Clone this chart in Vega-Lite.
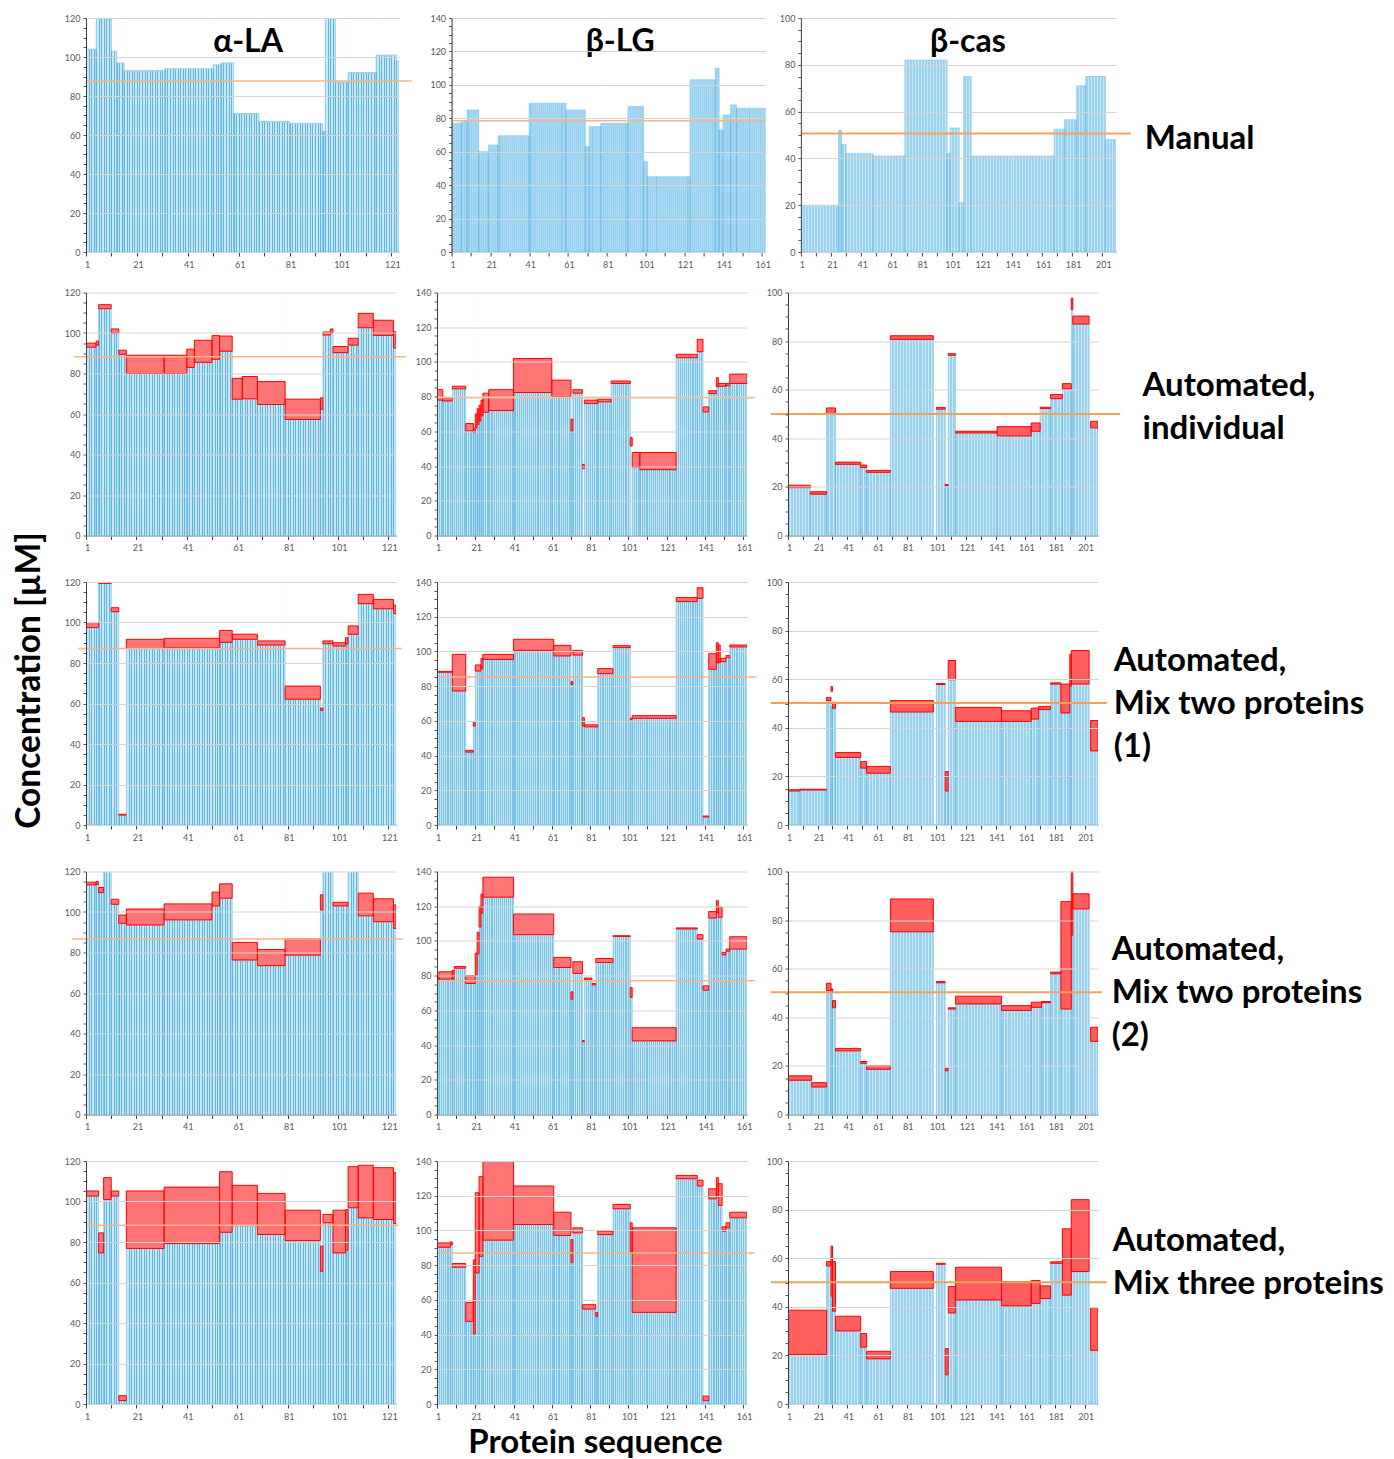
{
"background": "white",
"padding": {"left": 12, "top": 14, "right": 0, "bottom": 0},
"config": {"view": {"stroke": null}, "font": "Lato"},
"title": {"text": "Concentration [µM]", "orient": "left", "anchor": "middle", "font": "Lato", "fontSize": 33.5, "fontWeight": "bold", "color": "black", "offset": 17, "dx": 56},
"datasets": {
"a1": [{"s":1,"e":5,"v":104},{"s":5,"e":11,"v":130},{"s":11,"e":13,"v":103},{"s":13,"e":16,"v":97},{"s":16,"e":32,"v":93},{"s":32,"e":51,"v":94},{"s":51,"e":54,"v":96},{"s":54,"e":59,"v":97},{"s":59,"e":69,"v":71},{"s":69,"e":81,"v":67},{"s":81,"e":94,"v":66},{"s":94,"e":95,"v":62},{"s":95,"e":99,"v":130},{"s":99,"e":104,"v":87},{"s":104,"e":115,"v":92},{"s":115,"e":123,"v":101},{"s":123,"e":124,"v":98}],
"b1": [{"s":1,"e":6,"v":77},{"s":6,"e":9,"v":78},{"s":9,"e":15,"v":85},{"s":15,"e":20,"v":60},{"s":20,"e":25,"v":64},{"s":25,"e":41,"v":69.5},{"s":41,"e":60,"v":89},{"s":60,"e":70,"v":85},{"s":70,"e":72,"v":63},{"s":72,"e":78,"v":75},{"s":78,"e":92,"v":77},{"s":92,"e":100,"v":87},{"s":100,"e":102,"v":54},{"s":102,"e":124,"v":45},{"s":124,"e":137,"v":103},{"s":137,"e":139,"v":110},{"s":139,"e":141,"v":73},{"s":141,"e":145,"v":82},{"s":145,"e":148,"v":88},{"s":148,"e":163,"v":86}],
"c1": [{"s":1,"e":26,"v":20},{"s":26,"e":28,"v":52},{"s":28,"e":31,"v":46},{"s":31,"e":49,"v":42},{"s":49,"e":70,"v":41},{"s":70,"e":98,"v":82},{"s":98,"e":100,"v":42},{"s":100,"e":106,"v":53},{"s":106,"e":109,"v":21},{"s":109,"e":114,"v":75},{"s":114,"e":169,"v":41},{"s":169,"e":176,"v":52.5},{"s":176,"e":184,"v":56.5},{"s":184,"e":190,"v":71},{"s":190,"e":203,"v":75},{"s":203,"e":210,"v":48}],
"a2": [{"s":1,"e":5,"v":93,"hi":95},{"s":5,"e":6,"v":94,"hi":96},{"s":6,"e":11,"v":112,"hi":114},{"s":11,"e":14,"v":100,"hi":102},{"s":14,"e":17,"v":89.5,"hi":91.5},{"s":17,"e":32,"v":80,"hi":89},{"s":32,"e":41,"v":80,"hi":89},{"s":41,"e":44,"v":83,"hi":92},{"s":44,"e":51,"v":85.5,"hi":96.4},{"s":51,"e":54,"v":87,"hi":98.7},{"s":54,"e":59,"v":91,"hi":98.5},{"s":59,"e":63,"v":67.3,"hi":77.6},{"s":63,"e":69,"v":67.5,"hi":78.5},{"s":69,"e":80,"v":64.7,"hi":76},{"s":80,"e":94,"v":57.3,"hi":67.3},{"s":94,"e":95,"v":62.4,"hi":68},{"s":95,"e":98,"v":99,"hi":100.5},{"s":98,"e":99,"v":100,"hi":102},{"s":99,"e":105,"v":90.3,"hi":93.3},{"s":105,"e":109,"v":94,"hi":97.4},{"s":109,"e":115,"v":102.6,"hi":109.7},{"s":115,"e":123,"v":98.8,"hi":106.3},{"s":123,"e":124,"v":92.6,"hi":100.6}],
"b2": [{"s":1,"e":4,"v":78,"hi":84},{"s":4,"e":9,"v":77.5,"hi":79},{"s":9,"e":16,"v":84.5,"hi":86},{"s":16,"e":20,"v":60.3,"hi":64.5},{"s":20,"e":21,"v":59.3,"hi":61.6},{"s":21,"e":22,"v":62,"hi":70},{"s":22,"e":23,"v":64,"hi":73},{"s":23,"e":24,"v":66,"hi":75},{"s":24,"e":25,"v":69,"hi":78},{"s":25,"e":28,"v":71,"hi":82},{"s":28,"e":41,"v":72,"hi":84},{"s":41,"e":61,"v":82.4,"hi":102},{"s":61,"e":71,"v":80,"hi":89.5},{"s":71,"e":72,"v":60,"hi":67},{"s":72,"e":77,"v":82,"hi":84},{"s":77,"e":78,"v":0,"lo":38.5,"hi":41},{"s":78,"e":85,"v":76,"hi":78},{"s":85,"e":92,"v":77,"hi":78.5},{"s":92,"e":102,"v":87.6,"hi":89},{"s":102,"e":103,"v":0,"lo":51.5,"hi":56.5},{"s":103,"e":107,"v":39.5,"hi":47.8},{"s":107,"e":126,"v":37.9,"hi":47.8},{"s":126,"e":137,"v":102.4,"hi":104.4},{"s":137,"e":140,"v":105.9,"hi":113},{"s":140,"e":143,"v":71.2,"hi":74.1},{"s":143,"e":147,"v":81.8,"hi":83.4},{"s":147,"e":148,"v":85.7,"hi":91},{"s":148,"e":152,"v":86,"hi":87.6},{"s":152,"e":154,"v":86.3,"hi":87.6},{"s":154,"e":163,"v":87.6,"hi":93}],
"c2": [{"s":1,"e":16,"v":19.7,"hi":20.7},{"s":16,"e":27,"v":17,"hi":18},{"s":27,"e":33,"v":50,"hi":52.5},{"s":33,"e":50,"v":29.3,"hi":30.2},{"s":50,"e":54,"v":28,"hi":29},{"s":54,"e":70,"v":26,"hi":26.8},{"s":70,"e":99,"v":80.7,"hi":82.2},{"s":99,"e":101,"v":0},{"s":101,"e":107,"v":52,"hi":52.7},{"s":107,"e":109,"v":20.5,"hi":21},{"s":109,"e":114,"v":74.2,"hi":74.8},{"s":114,"e":142,"v":42.2,"hi":42.9},{"s":142,"e":165,"v":41,"hi":44.8},{"s":165,"e":171,"v":42.9,"hi":46.3},{"s":171,"e":178,"v":52.3,"hi":52.8},{"s":178,"e":186,"v":56.3,"hi":58},{"s":186,"e":192,"v":60.3,"hi":62.5},{"s":192,"e":193,"v":93,"hi":97.7},{"s":193,"e":204,"v":87,"hi":90.3},{"s":204,"e":205,"v":0},{"s":205,"e":210,"v":44.3,"hi":47}],
"a3": [{"s":1,"e":6,"v":97.5,"hi":100},{"s":6,"e":11,"v":125,"lo":119.3,"hi":121},{"s":11,"e":14,"v":105.3,"hi":107.3},{"s":14,"e":17,"v":4.9,"hi":5.3},{"s":17,"e":32,"v":87.2,"hi":91.7},{"s":32,"e":54,"v":87.6,"hi":92.2},{"s":54,"e":59,"v":90.2,"hi":96.1},{"s":59,"e":69,"v":91.7,"hi":94.2},{"s":69,"e":80,"v":88.9,"hi":90.9},{"s":80,"e":94,"v":62.1,"hi":68.6},{"s":94,"e":95,"v":56.5,"hi":57.7},{"s":95,"e":99,"v":89.5,"hi":90.9},{"s":99,"e":104,"v":88.4,"hi":90},{"s":104,"e":105,"v":89.5,"hi":92.5},{"s":105,"e":109,"v":94.2,"hi":98.3},{"s":109,"e":115,"v":109.3,"hi":113.9},{"s":115,"e":123,"v":106.8,"hi":111.4},{"s":123,"e":124,"v":104.4,"hi":108.5}],
"b3": [{"s":1,"e":9,"v":88,"hi":88.5},{"s":9,"e":16,"v":77.2,"hi":98.3},{"s":16,"e":20,"v":42,"hi":43},{"s":20,"e":21,"v":57,"hi":59},{"s":21,"e":24,"v":88.7,"hi":92.2},{"s":24,"e":25,"v":90,"hi":96},{"s":25,"e":41,"v":95.4,"hi":98.3},{"s":41,"e":62,"v":100.6,"hi":107},{"s":62,"e":71,"v":97.4,"hi":103.5},{"s":71,"e":72,"v":81,"hi":82.6},{"s":72,"e":77,"v":97.9,"hi":100.6},{"s":77,"e":78,"v":57,"hi":61.8},{"s":78,"e":85,"v":56.5,"hi":57.7},{"s":85,"e":93,"v":87.2,"hi":90.1},{"s":93,"e":102,"v":102.2,"hi":103.3},{"s":102,"e":103,"v":60.7,"hi":61.5},{"s":103,"e":126,"v":61.5,"hi":63},{"s":126,"e":137,"v":128.7,"hi":131},{"s":137,"e":140,"v":130.6,"hi":136.7},{"s":140,"e":143,"v":4.6,"hi":5.2},{"s":143,"e":147,"v":89.7,"hi":98.7},{"s":147,"e":148,"v":93.5,"hi":105},{"s":148,"e":149,"v":93.5,"hi":103.7},{"s":149,"e":152,"v":94.1,"hi":96},{"s":152,"e":154,"v":96.4,"hi":97.6},{"s":154,"e":163,"v":102.6,"hi":103.7}],
"c3": [{"s":1,"e":9,"v":14,"hi":14.5},{"s":9,"e":27,"v":14.4,"hi":14.7},{"s":27,"e":30,"v":51.2,"hi":52.5},{"s":30,"e":31,"v":49,"lo":55,"hi":57},{"s":31,"e":33,"v":48,"hi":50.5},{"s":33,"e":50,"v":27.8,"hi":29.8},{"s":50,"e":54,"v":23.4,"hi":26.1},{"s":54,"e":70,"v":21.3,"hi":24.1},{"s":70,"e":99,"v":46.5,"hi":51.2},{"s":99,"e":101,"v":0},{"s":101,"e":107,"v":57.8,"hi":58.2},{"s":107,"e":109,"v":14,"hi":22},{"s":109,"e":114,"v":59.8,"hi":67.7},{"s":114,"e":145,"v":42.6,"hi":48.4},{"s":145,"e":165,"v":42.6,"hi":47},{"s":165,"e":170,"v":43.6,"hi":48.1},{"s":170,"e":178,"v":47.5,"hi":48.8},{"s":178,"e":185,"v":58,"hi":58.5},{"s":185,"e":191,"v":46.1,"hi":58},{"s":191,"e":192,"v":57.1,"hi":70.2},{"s":192,"e":204,"v":58,"hi":71.8},{"s":204,"e":205,"v":0},{"s":205,"e":210,"v":30.5,"hi":43}],
"a4": [{"s":1,"e":5,"v":113.4,"hi":114.7},{"s":5,"e":6,"v":113.5,"hi":115},{"s":6,"e":8,"v":109.6,"hi":112.1},{"s":8,"e":11,"v":125},{"s":11,"e":14,"v":103.8,"hi":106.3},{"s":14,"e":17,"v":94.4,"hi":98.5},{"s":17,"e":32,"v":93.6,"hi":101.5},{"s":32,"e":51,"v":96.1,"hi":104},{"s":51,"e":54,"v":103,"hi":109.8},{"s":54,"e":59,"v":106.8,"hi":113.9},{"s":59,"e":69,"v":76.3,"hi":85},{"s":69,"e":80,"v":73.5,"hi":81.5},{"s":80,"e":94,"v":78.7,"hi":86.7},{"s":94,"e":95,"v":101,"hi":108.5},{"s":95,"e":99,"v":125},{"s":99,"e":105,"v":103,"hi":104.8},{"s":105,"e":109,"v":125},{"s":109,"e":115,"v":98.1,"hi":109.3},{"s":115,"e":123,"v":95.2,"hi":106.5},{"s":123,"e":124,"v":91.9,"hi":103.5}],
"b4": [{"s":1,"e":2,"v":77,"hi":79},{"s":2,"e":9,"v":78,"hi":82.2},{"s":9,"e":10,"v":78,"hi":83.2},{"s":10,"e":16,"v":84.3,"hi":85.3},{"s":16,"e":21,"v":75.5,"hi":79.9},{"s":21,"e":22,"v":80.5,"hi":93},{"s":22,"e":23,"v":92.5,"hi":105},{"s":23,"e":24,"v":108,"hi":120},{"s":24,"e":25,"v":116,"hi":127},{"s":25,"e":41,"v":125.2,"hi":136.7},{"s":41,"e":62,"v":103.6,"hi":115.5},{"s":62,"e":71,"v":84.7,"hi":90.5},{"s":71,"e":72,"v":66.4,"hi":70.7},{"s":72,"e":77,"v":81.3,"hi":88},{"s":77,"e":78,"v":42,"hi":42.6},{"s":78,"e":82,"v":77.6,"hi":78.6},{"s":82,"e":84,"v":74.7,"hi":75.5},{"s":84,"e":93,"v":87.6,"hi":89.9},{"s":93,"e":102,"v":102.6,"hi":103},{"s":102,"e":103,"v":67.4,"hi":73.2},{"s":103,"e":126,"v":42.4,"hi":50},{"s":126,"e":137,"v":106.9,"hi":107.5},{"s":137,"e":140,"v":101.1,"hi":103.6},{"s":140,"e":143,"v":71.6,"hi":74.1},{"s":143,"e":147,"v":113.2,"hi":116.9},{"s":147,"e":148,"v":116.5,"hi":123.2},{"s":148,"e":150,"v":113.6,"hi":119.4},{"s":150,"e":152,"v":92,"hi":93.4},{"s":152,"e":154,"v":94,"hi":95.3},{"s":154,"e":163,"v":95.3,"hi":102.4}],
"c4": [{"s":1,"e":17,"v":14.1,"hi":15.9},{"s":17,"e":27,"v":11.3,"hi":13.1},{"s":27,"e":30,"v":51,"hi":54},{"s":30,"e":31,"v":50.3,"hi":51.7},{"s":31,"e":33,"v":43.9,"hi":46.9},{"s":33,"e":50,"v":26.2,"hi":27.2},{"s":50,"e":54,"v":21.1,"hi":21.8},{"s":54,"e":70,"v":18.6,"hi":20},{"s":70,"e":99,"v":75.2,"hi":88.7},{"s":99,"e":101,"v":0},{"s":101,"e":107,"v":54.2,"hi":54.7},{"s":107,"e":109,"v":18,"hi":19},{"s":109,"e":114,"v":43.4,"hi":43.9},{"s":114,"e":145,"v":45.5,"hi":48.7},{"s":145,"e":165,"v":42.8,"hi":44.8},{"s":165,"e":172,"v":44.1,"hi":46.2},{"s":172,"e":178,"v":46,"hi":46.5},{"s":178,"e":185,"v":57.9,"hi":58.6},{"s":185,"e":192,"v":43.4,"hi":87.6},{"s":192,"e":193,"v":73.8,"hi":102},{"s":193,"e":204,"v":84.6,"hi":90.8},{"s":204,"e":205,"v":0},{"s":205,"e":210,"v":30.1,"hi":35.9}],
"a5": [{"s":1,"e":6,"v":102.7,"hi":105.2},{"s":6,"e":8,"v":74.6,"hi":84.5},{"s":8,"e":11,"v":101,"hi":111.8},{"s":11,"e":14,"v":102.7,"hi":105.2},{"s":14,"e":17,"v":1.7,"hi":4.1},{"s":17,"e":32,"v":76.8,"hi":105.2},{"s":32,"e":54,"v":79.2,"hi":107.1},{"s":54,"e":59,"v":84.8,"hi":114.7},{"s":59,"e":69,"v":88.1,"hi":108},{"s":69,"e":80,"v":83.7,"hi":104},{"s":80,"e":94,"v":80.7,"hi":95.7},{"s":94,"e":95,"v":65.5,"hi":78},{"s":95,"e":99,"v":89.5,"hi":93.6},{"s":99,"e":104,"v":74.6,"hi":95.7},{"s":104,"e":105,"v":76,"hi":96},{"s":105,"e":109,"v":96.9,"hi":117.2},{"s":109,"e":115,"v":91.9,"hi":117.9},{"s":115,"e":123,"v":91.1,"hi":116.7},{"s":123,"e":124,"v":89.1,"hi":114.2}],
"b5": [{"s":1,"e":8,"v":90.3,"hi":92.8},{"s":8,"e":9,"v":91.8,"hi":93.4},{"s":9,"e":16,"v":78.8,"hi":80.9},{"s":16,"e":20,"v":47.6,"hi":58.5},{"s":20,"e":21,"v":40.4,"hi":83},{"s":21,"e":23,"v":75.5,"hi":121.7},{"s":23,"e":25,"v":85.1,"hi":131},{"s":25,"e":41,"v":94.4,"hi":145},{"s":41,"e":62,"v":103.4,"hi":125.6},{"s":62,"e":71,"v":97.1,"hi":110.5},{"s":71,"e":72,"v":81.6,"hi":94.7},{"s":72,"e":77,"v":98.6,"hi":101.5},{"s":77,"e":84,"v":54.7,"hi":57.2},{"s":84,"e":85,"v":50.5,"hi":52.8},{"s":85,"e":93,"v":97.6,"hi":99.6},{"s":93,"e":102,"v":112.5,"hi":115},{"s":102,"e":103,"v":87,"hi":104.4},{"s":103,"e":126,"v":52.8,"hi":101.5},{"s":126,"e":137,"v":129.8,"hi":131.7},{"s":137,"e":140,"v":125.6,"hi":129},{"s":140,"e":143,"v":1.9,"hi":4.6},{"s":143,"e":147,"v":118.2,"hi":124},{"s":147,"e":148,"v":120.2,"hi":130.4},{"s":148,"e":150,"v":114.4,"hi":126.9},{"s":150,"e":152,"v":99.6,"hi":102.1},{"s":152,"e":154,"v":101.5,"hi":104.4},{"s":154,"e":163,"v":107.3,"hi":110.5}],
"c5": [{"s":1,"e":27,"v":20.3,"hi":38.6},{"s":27,"e":30,"v":56.8,"hi":58.6},{"s":30,"e":31,"v":44.4,"hi":65},{"s":31,"e":33,"v":38.2,"hi":58.6},{"s":33,"e":50,"v":30.1,"hi":36.1},{"s":50,"e":54,"v":23.4,"hi":29},{"s":54,"e":70,"v":18.6,"hi":21.7},{"s":70,"e":99,"v":47.6,"hi":54.5},{"s":99,"e":101,"v":0},{"s":101,"e":107,"v":57.5,"hi":57.9},{"s":107,"e":109,"v":12,"hi":22.8},{"s":109,"e":114,"v":37.5,"hi":48.3},{"s":114,"e":145,"v":42.8,"hi":56.3},{"s":145,"e":165,"v":40.4,"hi":50.3},{"s":165,"e":171,"v":41.4,"hi":50.8},{"s":171,"e":178,"v":43.4,"hi":48.6},{"s":178,"e":186,"v":57.9,"hi":58.5},{"s":186,"e":192,"v":44.8,"hi":72.1},{"s":192,"e":204,"v":54.5,"hi":84.1},{"s":204,"e":205,"v":0},{"s":205,"e":210,"v":22.1,"hi":39.7}]
},
"vconcat": [
{"hconcat": [
 {"width":313,"height":234,"data":{"name":"a1"},"layer":[
  {"mark":{"type":"rect","fill":"white","stroke":"white","strokeWidth":1,"clip":true},"encoding":{"x":{"field":"s","type":"quantitative","scale":{"domain":[1,124],"nice":false,"zero":false},"axis":{"title":null,"tickCount":123,"grid":true,"gridColor":"#2797d7","gridWidth":1,"gridOpacity":{"condition":{"test":"datum.value < 124","value":1},"value":0},"tickSize":4,"tickColor":"#404040","tickOpacity":{"condition":{"test":"datum.value % 10 === 1","value":1},"value":0},"labelExpr":"datum.value % 20 === 1 ? datum.label : ''","labelOverlap":false,"labelFlush":false,"labelFontSize":9,"labelColor":"#595959","labelFont":"Lato","labelPadding":4,"labelOffset":1,"domainColor":"#404040","zindex":0}},"x2":{"field":"e"},"y":{"field":"v","type":"quantitative","scale":{"domain":[0,120],"nice":false,"zero":false},"axis":{"title":null,"tickCount":24,"grid":true,"gridColor":"#d4d4d4","gridOpacity":{"condition":{"test":"datum.value % 20 === 0","value":1},"value":0},"tickSize":3,"tickColor":"#595959","labelExpr":"datum.value % 20 === 0 ? datum.label : ''","labelOverlap":false,"labelFontSize":9,"labelColor":"#595959","labelFont":"Lato","labelPadding":3,"domainColor":"#404040","zindex":1}},"y2":{"datum":120}}},
  {"mark":{"type":"rect","fill":"#93d1f1","fillOpacity":0.5,"stroke":"#5ab0e0","strokeWidth":0.5,"clip":true},"encoding":{"x":{"field":"s","type":"quantitative"},"x2":{"field":"e"},"y":{"field":"v","type":"quantitative"},"y2":{"datum":0}}},
  {"data":{"values":[{"c":87.7}]},"mark":{"type":"rule","color":"#f7b584","strokeWidth":1.5},"encoding":{"x":{"datum":1},"x2":{"datum":129},"y":{"field":"c","type":"quantitative"}}},
  {"data":{"values":[{}]},"mark":{"type":"text","text":"α-LA","font":"Lato","fontSize":32,"fontWeight":"bold","align":"center","baseline":"alphabetic","color":"black"},"encoding":{"x":{"datum":64.7},"y":{"datum":102.6}}}
 ]},
 {"hconcat": [
  {"width":314,"height":234,"data":{"name":"b1"},"layer":[
   {"mark":{"type":"rect","fill":"white","stroke":"white","strokeWidth":1,"clip":true},"encoding":{"x":{"field":"s","type":"quantitative","scale":{"domain":[1,163],"nice":false,"zero":false},"axis":{"title":null,"tickCount":162,"grid":true,"gridColor":"#2797d7","gridWidth":1,"gridOpacity":{"condition":{"test":"datum.value < 163","value":0.75},"value":0},"tickSize":4,"tickColor":"#404040","tickOpacity":{"condition":{"test":"datum.value % 10 === 1","value":1},"value":0},"labelExpr":"datum.value % 20 === 1 ? datum.label : ''","labelOverlap":false,"labelFlush":false,"labelFontSize":9,"labelColor":"#595959","labelFont":"Lato","labelPadding":4,"labelOffset":1,"domainColor":"#404040","zindex":0}},"x2":{"field":"e"},"y":{"field":"v","type":"quantitative","scale":{"domain":[0,140],"nice":false,"zero":false},"axis":{"title":null,"tickCount":28,"grid":true,"gridColor":"#d4d4d4","gridOpacity":{"condition":{"test":"datum.value % 20 === 0","value":1},"value":0},"tickSize":3,"tickColor":"#595959","labelExpr":"datum.value % 20 === 0 ? datum.label : ''","labelOverlap":false,"labelFontSize":9,"labelColor":"#595959","labelFont":"Lato","labelPadding":3,"domainColor":"#404040","zindex":1}},"y2":{"datum":140}}},
   {"mark":{"type":"rect","fill":"#93d1f1","fillOpacity":0.5,"stroke":"#5ab0e0","strokeWidth":0.5,"clip":true},"encoding":{"x":{"field":"s","type":"quantitative"},"x2":{"field":"e"},"y":{"field":"v","type":"quantitative"},"y2":{"datum":0}}},
   {"data":{"values":[{"c":78.5}]},"mark":{"type":"rule","color":"#f7b584","strokeWidth":1.5},"encoding":{"x":{"datum":1},"x2":{"datum":163},"y":{"field":"c","type":"quantitative"}}},
   {"data":{"values":[{}]},"mark":{"type":"text","text":"β-LG","font":"Lato","fontSize":32,"fontWeight":"bold","align":"center","baseline":"alphabetic","color":"black"},"encoding":{"x":{"datum":88},"y":{"datum":119.5}}}
  ]},
  {"width":315,"height":234,"data":{"name":"c1"},"layer":[
   {"mark":{"type":"rect","fill":"white","stroke":"white","strokeWidth":1,"clip":true},"encoding":{"x":{"field":"s","type":"quantitative","scale":{"domain":[1,210],"nice":false,"zero":false},"axis":{"title":null,"tickCount":209,"grid":true,"gridColor":"#2797d7","gridWidth":1,"gridOpacity":{"condition":{"test":"datum.value < 210","value":0.45},"value":0},"tickSize":4,"tickColor":"#404040","tickOpacity":{"condition":{"test":"datum.value % 10 === 1","value":1},"value":0},"labelExpr":"datum.value % 20 === 1 ? datum.label : ''","labelOverlap":false,"labelFlush":false,"labelFontSize":9,"labelColor":"#595959","labelFont":"Lato","labelPadding":4,"labelOffset":1,"domainColor":"#404040","zindex":0}},"x2":{"field":"e"},"y":{"field":"v","type":"quantitative","scale":{"domain":[0,100],"nice":false,"zero":false},"axis":{"title":null,"tickCount":20,"grid":true,"gridColor":"#d4d4d4","gridOpacity":{"condition":{"test":"datum.value % 20 === 0","value":1},"value":0},"tickSize":3,"tickColor":"#595959","labelExpr":"datum.value % 20 === 0 ? datum.label : ''","labelOverlap":false,"labelFontSize":9,"labelColor":"#595959","labelFont":"Lato","labelPadding":3,"domainColor":"#404040","zindex":1}},"y2":{"datum":100}}},
   {"mark":{"type":"rect","fill":"#93d1f1","fillOpacity":0.5,"stroke":"#5ab0e0","strokeWidth":0.5,"clip":true},"encoding":{"x":{"field":"s","type":"quantitative"},"x2":{"field":"e"},"y":{"field":"v","type":"quantitative"},"y2":{"datum":0}}},
   {"data":{"values":[{"c":50.6}]},"mark":{"type":"rule","color":"#f5a05a","strokeWidth":2},"encoding":{"x":{"datum":1},"x2":{"datum":220},"y":{"field":"c","type":"quantitative"}}},
   {"data":{"values":[{}]},"mark":{"type":"text","text":"β-cas","font":"Lato","fontSize":32,"fontWeight":"bold","align":"center","baseline":"alphabetic","color":"black"},"encoding":{"x":{"datum":111.8},"y":{"datum":85.3}}},
   {"data":{"values":[{}]},"mark":{"type":"text","text":"Manual","font":"Lato","fontSize":33,"fontWeight":"bold","align":"left","baseline":"middle","lineHeight":43,"color":"black"},"encoding":{"x":{"datum":229.2},"y":{"datum":48.5}}}
  ]}
 ], "spacing": 8.3}
], "spacing": 16.6},
{"vconcat": [
 {"hconcat": [
  {"width":310,"height":243,"data":{"name":"a2"},"layer":[
   {"mark":{"type":"rect","fill":"white","stroke":"white","strokeWidth":1,"clip":true},"encoding":{"x":{"field":"s","type":"quantitative","scale":{"domain":[1,124],"nice":false,"zero":false},"axis":{"title":null,"tickCount":123,"grid":true,"gridColor":"#2797d7","gridWidth":1,"gridOpacity":{"condition":{"test":"datum.value < 124","value":1},"value":0},"tickSize":4,"tickColor":"#404040","tickOpacity":{"condition":{"test":"datum.value % 10 === 1","value":1},"value":0},"labelExpr":"datum.value % 20 === 1 ? datum.label : ''","labelOverlap":false,"labelFlush":false,"labelFontSize":9,"labelColor":"#595959","labelFont":"Lato","labelPadding":4,"labelOffset":1,"domainColor":"#404040","zindex":0}},"x2":{"field":"e"},"y":{"field":"v","type":"quantitative","scale":{"domain":[0,120],"nice":false,"zero":false},"axis":{"title":null,"tickCount":24,"grid":true,"gridColor":"#d4d4d4","gridOpacity":{"condition":{"test":"datum.value % 20 === 0","value":1},"value":0},"tickSize":3,"tickColor":"#595959","labelExpr":"datum.value % 20 === 0 ? datum.label : ''","labelOverlap":false,"labelFontSize":9,"labelColor":"#595959","labelFont":"Lato","labelPadding":3,"domainColor":"#404040","zindex":1}},"y2":{"datum":120}}},
   {"mark":{"type":"rect","fill":"#93d1f1","fillOpacity":0.5,"stroke":"#5ab0e0","strokeWidth":0.5,"clip":true},"encoding":{"x":{"field":"s","type":"quantitative"},"x2":{"field":"e"},"y":{"field":"v","type":"quantitative"},"y2":{"datum":0}}},
   {"transform":[{"filter":"isValid(datum.hi) && !isValid(datum.lo)"}],"mark":{"type":"rect","fill":"#ff2020","fillOpacity":0.62,"stroke":"#ff0000","strokeWidth":1,"clip":true},"encoding":{"x":{"field":"s","type":"quantitative"},"x2":{"field":"e"},"y":{"field":"v","type":"quantitative"},"y2":{"field":"hi"}}},
   {"data":{"values":[{"c":88.3}]},"mark":{"type":"rule","color":"#f7b584","strokeWidth":1.5},"encoding":{"x":{"datum":-3.8},"x2":{"datum":128},"y":{"field":"c","type":"quantitative"}}}
  ]},
  {"width":310,"height":243,"data":{"name":"b2"},"layer":[
   {"mark":{"type":"rect","fill":"white","stroke":"white","strokeWidth":1,"clip":true},"encoding":{"x":{"field":"s","type":"quantitative","scale":{"domain":[1,163],"nice":false,"zero":false},"axis":{"title":null,"tickCount":162,"grid":true,"gridColor":"#2797d7","gridWidth":1,"gridOpacity":{"condition":{"test":"datum.value < 163","value":0.75},"value":0},"tickSize":4,"tickColor":"#404040","tickOpacity":{"condition":{"test":"datum.value % 10 === 1","value":1},"value":0},"labelExpr":"datum.value % 20 === 1 ? datum.label : ''","labelOverlap":false,"labelFlush":false,"labelFontSize":9,"labelColor":"#595959","labelFont":"Lato","labelPadding":4,"labelOffset":1,"domainColor":"#404040","zindex":0}},"x2":{"field":"e"},"y":{"field":"v","type":"quantitative","scale":{"domain":[0,140],"nice":false,"zero":false},"axis":{"title":null,"tickCount":28,"grid":true,"gridColor":"#d4d4d4","gridOpacity":{"condition":{"test":"datum.value % 20 === 0","value":1},"value":0},"tickSize":3,"tickColor":"#595959","labelExpr":"datum.value % 20 === 0 ? datum.label : ''","labelOverlap":false,"labelFontSize":9,"labelColor":"#595959","labelFont":"Lato","labelPadding":3,"domainColor":"#404040","zindex":1}},"y2":{"datum":140}}},
   {"mark":{"type":"rect","fill":"#93d1f1","fillOpacity":0.5,"stroke":"#5ab0e0","strokeWidth":0.5,"clip":true},"encoding":{"x":{"field":"s","type":"quantitative"},"x2":{"field":"e"},"y":{"field":"v","type":"quantitative"},"y2":{"datum":0}}},
   {"transform":[{"filter":"isValid(datum.hi) && !isValid(datum.lo)"}],"mark":{"type":"rect","fill":"#ff2020","fillOpacity":0.62,"stroke":"#ff0000","strokeWidth":1,"clip":true},"encoding":{"x":{"field":"s","type":"quantitative"},"x2":{"field":"e"},"y":{"field":"v","type":"quantitative"},"y2":{"field":"hi"}}},
   {"transform":[{"filter":"isValid(datum.lo)"}],"mark":{"type":"rect","fill":"#ff2020","fillOpacity":0.62,"stroke":"#ff0000","strokeWidth":1,"clip":true},"encoding":{"x":{"field":"s","type":"quantitative"},"x2":{"field":"e"},"y":{"field":"lo","type":"quantitative"},"y2":{"field":"hi"}}},
   {"data":{"values":[{"c":79.3}]},"mark":{"type":"rule","color":"#f7b584","strokeWidth":1.5},"encoding":{"x":{"datum":1},"x2":{"datum":167},"y":{"field":"c","type":"quantitative"}}}
  ]},
  {"width":310,"height":243,"data":{"name":"c2"},"layer":[
   {"mark":{"type":"rect","fill":"white","stroke":"white","strokeWidth":1,"clip":true},"encoding":{"x":{"field":"s","type":"quantitative","scale":{"domain":[1,210],"nice":false,"zero":false},"axis":{"title":null,"tickCount":209,"grid":true,"gridColor":"#2797d7","gridWidth":1,"gridOpacity":{"condition":{"test":"datum.value < 210","value":0.45},"value":0},"tickSize":4,"tickColor":"#404040","tickOpacity":{"condition":{"test":"datum.value % 10 === 1","value":1},"value":0},"labelExpr":"datum.value % 20 === 1 ? datum.label : ''","labelOverlap":false,"labelFlush":false,"labelFontSize":9,"labelColor":"#595959","labelFont":"Lato","labelPadding":4,"labelOffset":1,"domainColor":"#404040","zindex":0}},"x2":{"field":"e"},"y":{"field":"v","type":"quantitative","scale":{"domain":[0,100],"nice":false,"zero":false},"axis":{"title":null,"tickCount":20,"grid":true,"gridColor":"#d4d4d4","gridOpacity":{"condition":{"test":"datum.value % 20 === 0","value":1},"value":0},"tickSize":3,"tickColor":"#595959","labelExpr":"datum.value % 20 === 0 ? datum.label : ''","labelOverlap":false,"labelFontSize":9,"labelColor":"#595959","labelFont":"Lato","labelPadding":3,"domainColor":"#404040","zindex":1}},"y2":{"datum":100}}},
   {"mark":{"type":"rect","fill":"#93d1f1","fillOpacity":0.5,"stroke":"#5ab0e0","strokeWidth":0.5,"clip":true},"encoding":{"x":{"field":"s","type":"quantitative"},"x2":{"field":"e"},"y":{"field":"v","type":"quantitative"},"y2":{"datum":0}}},
   {"transform":[{"filter":"isValid(datum.hi) && !isValid(datum.lo)"}],"mark":{"type":"rect","fill":"#ff2020","fillOpacity":0.72,"stroke":"#ff0000","strokeWidth":1,"clip":true},"encoding":{"x":{"field":"s","type":"quantitative"},"x2":{"field":"e"},"y":{"field":"v","type":"quantitative"},"y2":{"field":"hi"}}},
   {"data":{"values":[{"c":50}]},"mark":{"type":"rule","color":"#f5a05a","strokeWidth":2},"encoding":{"x":{"datum":-10.5},"x2":{"datum":225},"y":{"field":"c","type":"quantitative"}}},
   {"data":{"values":[{}]},"mark":{"type":"text","text":["Automated,","individual"],"font":"Lato","fontSize":33,"fontWeight":"bold","align":"left","baseline":"middle","lineHeight":43,"color":"black"},"encoding":{"x":{"datum":240},"y":{"datum":61.7}}}
  ]}
 ], "spacing": 41, "bounds": "flush"},
 {"hconcat": [
  {"width":310,"height":243,"data":{"name":"a3"},"layer":[
   {"mark":{"type":"rect","fill":"white","stroke":"white","strokeWidth":1,"clip":true},"encoding":{"x":{"field":"s","type":"quantitative","scale":{"domain":[1,124],"nice":false,"zero":false},"axis":{"title":null,"tickCount":123,"grid":true,"gridColor":"#2797d7","gridWidth":1,"gridOpacity":{"condition":{"test":"datum.value < 124","value":1},"value":0},"tickSize":4,"tickColor":"#404040","tickOpacity":{"condition":{"test":"datum.value % 10 === 1","value":1},"value":0},"labelExpr":"datum.value % 20 === 1 ? datum.label : ''","labelOverlap":false,"labelFlush":false,"labelFontSize":9,"labelColor":"#595959","labelFont":"Lato","labelPadding":4,"labelOffset":1,"domainColor":"#404040","zindex":0}},"x2":{"field":"e"},"y":{"field":"v","type":"quantitative","scale":{"domain":[0,120],"nice":false,"zero":false},"axis":{"title":null,"tickCount":24,"grid":true,"gridColor":"#d4d4d4","gridOpacity":{"condition":{"test":"datum.value % 20 === 0","value":1},"value":0},"tickSize":3,"tickColor":"#595959","labelExpr":"datum.value % 20 === 0 ? datum.label : ''","labelOverlap":false,"labelFontSize":9,"labelColor":"#595959","labelFont":"Lato","labelPadding":3,"domainColor":"#404040","zindex":1}},"y2":{"datum":120}}},
   {"mark":{"type":"rect","fill":"#93d1f1","fillOpacity":0.5,"stroke":"#5ab0e0","strokeWidth":0.5,"clip":true},"encoding":{"x":{"field":"s","type":"quantitative"},"x2":{"field":"e"},"y":{"field":"v","type":"quantitative"},"y2":{"datum":0}}},
   {"transform":[{"filter":"isValid(datum.hi) && !isValid(datum.lo)"}],"mark":{"type":"rect","fill":"#ff2020","fillOpacity":0.62,"stroke":"#ff0000","strokeWidth":1,"clip":true},"encoding":{"x":{"field":"s","type":"quantitative"},"x2":{"field":"e"},"y":{"field":"v","type":"quantitative"},"y2":{"field":"hi"}}},
   {"transform":[{"filter":"isValid(datum.lo)"}],"mark":{"type":"rect","fill":"#ff2020","fillOpacity":0.62,"stroke":"#ff0000","strokeWidth":1,"clip":true},"encoding":{"x":{"field":"s","type":"quantitative"},"x2":{"field":"e"},"y":{"field":"lo","type":"quantitative"},"y2":{"field":"hi"}}},
   {"data":{"values":[{"c":87.2}]},"mark":{"type":"rule","color":"#f7b584","strokeWidth":1.5},"encoding":{"x":{"datum":-2.2},"x2":{"datum":126.4},"y":{"field":"c","type":"quantitative"}}}
  ]},
  {"width":310,"height":243,"data":{"name":"b3"},"layer":[
   {"mark":{"type":"rect","fill":"white","stroke":"white","strokeWidth":1,"clip":true},"encoding":{"x":{"field":"s","type":"quantitative","scale":{"domain":[1,163],"nice":false,"zero":false},"axis":{"title":null,"tickCount":162,"grid":true,"gridColor":"#2797d7","gridWidth":1,"gridOpacity":{"condition":{"test":"datum.value < 163","value":0.75},"value":0},"tickSize":4,"tickColor":"#404040","tickOpacity":{"condition":{"test":"datum.value % 10 === 1","value":1},"value":0},"labelExpr":"datum.value % 20 === 1 ? datum.label : ''","labelOverlap":false,"labelFlush":false,"labelFontSize":9,"labelColor":"#595959","labelFont":"Lato","labelPadding":4,"labelOffset":1,"domainColor":"#404040","zindex":0}},"x2":{"field":"e"},"y":{"field":"v","type":"quantitative","scale":{"domain":[0,140],"nice":false,"zero":false},"axis":{"title":null,"tickCount":28,"grid":true,"gridColor":"#d4d4d4","gridOpacity":{"condition":{"test":"datum.value % 20 === 0","value":1},"value":0},"tickSize":3,"tickColor":"#595959","labelExpr":"datum.value % 20 === 0 ? datum.label : ''","labelOverlap":false,"labelFontSize":9,"labelColor":"#595959","labelFont":"Lato","labelPadding":3,"domainColor":"#404040","zindex":1}},"y2":{"datum":140}}},
   {"mark":{"type":"rect","fill":"#93d1f1","fillOpacity":0.5,"stroke":"#5ab0e0","strokeWidth":0.5,"clip":true},"encoding":{"x":{"field":"s","type":"quantitative"},"x2":{"field":"e"},"y":{"field":"v","type":"quantitative"},"y2":{"datum":0}}},
   {"transform":[{"filter":"isValid(datum.hi) && !isValid(datum.lo)"}],"mark":{"type":"rect","fill":"#ff2020","fillOpacity":0.62,"stroke":"#ff0000","strokeWidth":1,"clip":true},"encoding":{"x":{"field":"s","type":"quantitative"},"x2":{"field":"e"},"y":{"field":"v","type":"quantitative"},"y2":{"field":"hi"}}},
   {"data":{"values":[{"c":85.3}]},"mark":{"type":"rule","color":"#f7b584","strokeWidth":1.5},"encoding":{"x":{"datum":1},"x2":{"datum":168},"y":{"field":"c","type":"quantitative"}}}
  ]},
  {"width":310,"height":243,"data":{"name":"c3"},"layer":[
   {"mark":{"type":"rect","fill":"white","stroke":"white","strokeWidth":1,"clip":true},"encoding":{"x":{"field":"s","type":"quantitative","scale":{"domain":[1,210],"nice":false,"zero":false},"axis":{"title":null,"tickCount":209,"grid":true,"gridColor":"#2797d7","gridWidth":1,"gridOpacity":{"condition":{"test":"datum.value < 210","value":0.45},"value":0},"tickSize":4,"tickColor":"#404040","tickOpacity":{"condition":{"test":"datum.value % 10 === 1","value":1},"value":0},"labelExpr":"datum.value % 20 === 1 ? datum.label : ''","labelOverlap":false,"labelFlush":false,"labelFontSize":9,"labelColor":"#595959","labelFont":"Lato","labelPadding":4,"labelOffset":1,"domainColor":"#404040","zindex":0}},"x2":{"field":"e"},"y":{"field":"v","type":"quantitative","scale":{"domain":[0,100],"nice":false,"zero":false},"axis":{"title":null,"tickCount":20,"grid":true,"gridColor":"#d4d4d4","gridOpacity":{"condition":{"test":"datum.value % 20 === 0","value":1},"value":0},"tickSize":3,"tickColor":"#595959","labelExpr":"datum.value % 20 === 0 ? datum.label : ''","labelOverlap":false,"labelFontSize":9,"labelColor":"#595959","labelFont":"Lato","labelPadding":3,"domainColor":"#404040","zindex":1}},"y2":{"datum":100}}},
   {"mark":{"type":"rect","fill":"#93d1f1","fillOpacity":0.5,"stroke":"#5ab0e0","strokeWidth":0.5,"clip":true},"encoding":{"x":{"field":"s","type":"quantitative"},"x2":{"field":"e"},"y":{"field":"v","type":"quantitative"},"y2":{"datum":0}}},
   {"transform":[{"filter":"isValid(datum.hi) && !isValid(datum.lo)"}],"mark":{"type":"rect","fill":"#ff2020","fillOpacity":0.72,"stroke":"#ff0000","strokeWidth":1,"clip":true},"encoding":{"x":{"field":"s","type":"quantitative"},"x2":{"field":"e"},"y":{"field":"v","type":"quantitative"},"y2":{"field":"hi"}}},
   {"transform":[{"filter":"isValid(datum.lo)"}],"mark":{"type":"rect","fill":"#ff2020","fillOpacity":0.72,"stroke":"#ff0000","strokeWidth":1,"clip":true},"encoding":{"x":{"field":"s","type":"quantitative"},"x2":{"field":"e"},"y":{"field":"lo","type":"quantitative"},"y2":{"field":"hi"}}},
   {"data":{"values":[{"c":50.2}]},"mark":{"type":"rule","color":"#f5a05a","strokeWidth":2},"encoding":{"x":{"datum":-10.5},"x2":{"datum":216},"y":{"field":"c","type":"quantitative"}}},
   {"data":{"values":[{}]},"mark":{"type":"text","text":["Automated,","Mix two proteins","(1)"],"font":"Lato","fontSize":33,"fontWeight":"bold","align":"left","baseline":"middle","lineHeight":43,"color":"black"},"encoding":{"x":{"datum":220.6},"y":{"datum":67.5}}}
  ]}
 ], "spacing": 41, "bounds": "flush"},
 {"hconcat": [
  {"width":310,"height":243,"data":{"name":"a4"},"layer":[
   {"mark":{"type":"rect","fill":"white","stroke":"white","strokeWidth":1,"clip":true},"encoding":{"x":{"field":"s","type":"quantitative","scale":{"domain":[1,124],"nice":false,"zero":false},"axis":{"title":null,"tickCount":123,"grid":true,"gridColor":"#2797d7","gridWidth":1,"gridOpacity":{"condition":{"test":"datum.value < 124","value":1},"value":0},"tickSize":4,"tickColor":"#404040","tickOpacity":{"condition":{"test":"datum.value % 10 === 1","value":1},"value":0},"labelExpr":"datum.value % 20 === 1 ? datum.label : ''","labelOverlap":false,"labelFlush":false,"labelFontSize":9,"labelColor":"#595959","labelFont":"Lato","labelPadding":4,"labelOffset":1,"domainColor":"#404040","zindex":0}},"x2":{"field":"e"},"y":{"field":"v","type":"quantitative","scale":{"domain":[0,120],"nice":false,"zero":false},"axis":{"title":null,"tickCount":24,"grid":true,"gridColor":"#d4d4d4","gridOpacity":{"condition":{"test":"datum.value % 20 === 0","value":1},"value":0},"tickSize":3,"tickColor":"#595959","labelExpr":"datum.value % 20 === 0 ? datum.label : ''","labelOverlap":false,"labelFontSize":9,"labelColor":"#595959","labelFont":"Lato","labelPadding":3,"domainColor":"#404040","zindex":1}},"y2":{"datum":120}}},
   {"mark":{"type":"rect","fill":"#93d1f1","fillOpacity":0.5,"stroke":"#5ab0e0","strokeWidth":0.5,"clip":true},"encoding":{"x":{"field":"s","type":"quantitative"},"x2":{"field":"e"},"y":{"field":"v","type":"quantitative"},"y2":{"datum":0}}},
   {"transform":[{"filter":"isValid(datum.hi) && !isValid(datum.lo)"}],"mark":{"type":"rect","fill":"#ff2020","fillOpacity":0.62,"stroke":"#ff0000","strokeWidth":1,"clip":true},"encoding":{"x":{"field":"s","type":"quantitative"},"x2":{"field":"e"},"y":{"field":"v","type":"quantitative"},"y2":{"field":"hi"}}},
   {"data":{"values":[{"c":86.7}]},"mark":{"type":"rule","color":"#f7b584","strokeWidth":1.5},"encoding":{"x":{"datum":-4.6},"x2":{"datum":126.8},"y":{"field":"c","type":"quantitative"}}}
  ]},
  {"width":310,"height":243,"data":{"name":"b4"},"layer":[
   {"mark":{"type":"rect","fill":"white","stroke":"white","strokeWidth":1,"clip":true},"encoding":{"x":{"field":"s","type":"quantitative","scale":{"domain":[1,163],"nice":false,"zero":false},"axis":{"title":null,"tickCount":162,"grid":true,"gridColor":"#2797d7","gridWidth":1,"gridOpacity":{"condition":{"test":"datum.value < 163","value":0.75},"value":0},"tickSize":4,"tickColor":"#404040","tickOpacity":{"condition":{"test":"datum.value % 10 === 1","value":1},"value":0},"labelExpr":"datum.value % 20 === 1 ? datum.label : ''","labelOverlap":false,"labelFlush":false,"labelFontSize":9,"labelColor":"#595959","labelFont":"Lato","labelPadding":4,"labelOffset":1,"domainColor":"#404040","zindex":0}},"x2":{"field":"e"},"y":{"field":"v","type":"quantitative","scale":{"domain":[0,140],"nice":false,"zero":false},"axis":{"title":null,"tickCount":28,"grid":true,"gridColor":"#d4d4d4","gridOpacity":{"condition":{"test":"datum.value % 20 === 0","value":1},"value":0},"tickSize":3,"tickColor":"#595959","labelExpr":"datum.value % 20 === 0 ? datum.label : ''","labelOverlap":false,"labelFontSize":9,"labelColor":"#595959","labelFont":"Lato","labelPadding":3,"domainColor":"#404040","zindex":1}},"y2":{"datum":140}}},
   {"mark":{"type":"rect","fill":"#93d1f1","fillOpacity":0.5,"stroke":"#5ab0e0","strokeWidth":0.5,"clip":true},"encoding":{"x":{"field":"s","type":"quantitative"},"x2":{"field":"e"},"y":{"field":"v","type":"quantitative"},"y2":{"datum":0}}},
   {"transform":[{"filter":"isValid(datum.hi) && !isValid(datum.lo)"}],"mark":{"type":"rect","fill":"#ff2020","fillOpacity":0.62,"stroke":"#ff0000","strokeWidth":1,"clip":true},"encoding":{"x":{"field":"s","type":"quantitative"},"x2":{"field":"e"},"y":{"field":"v","type":"quantitative"},"y2":{"field":"hi"}}},
   {"data":{"values":[{"c":77}]},"mark":{"type":"rule","color":"#f7b584","strokeWidth":1.5},"encoding":{"x":{"datum":1},"x2":{"datum":167},"y":{"field":"c","type":"quantitative"}}}
  ]},
  {"width":310,"height":243,"data":{"name":"c4"},"layer":[
   {"mark":{"type":"rect","fill":"white","stroke":"white","strokeWidth":1,"clip":true},"encoding":{"x":{"field":"s","type":"quantitative","scale":{"domain":[1,210],"nice":false,"zero":false},"axis":{"title":null,"tickCount":209,"grid":true,"gridColor":"#2797d7","gridWidth":1,"gridOpacity":{"condition":{"test":"datum.value < 210","value":0.45},"value":0},"tickSize":4,"tickColor":"#404040","tickOpacity":{"condition":{"test":"datum.value % 10 === 1","value":1},"value":0},"labelExpr":"datum.value % 20 === 1 ? datum.label : ''","labelOverlap":false,"labelFlush":false,"labelFontSize":9,"labelColor":"#595959","labelFont":"Lato","labelPadding":4,"labelOffset":1,"domainColor":"#404040","zindex":0}},"x2":{"field":"e"},"y":{"field":"v","type":"quantitative","scale":{"domain":[0,100],"nice":false,"zero":false},"axis":{"title":null,"tickCount":20,"grid":true,"gridColor":"#d4d4d4","gridOpacity":{"condition":{"test":"datum.value % 20 === 0","value":1},"value":0},"tickSize":3,"tickColor":"#595959","labelExpr":"datum.value % 20 === 0 ? datum.label : ''","labelOverlap":false,"labelFontSize":9,"labelColor":"#595959","labelFont":"Lato","labelPadding":3,"domainColor":"#404040","zindex":1}},"y2":{"datum":100}}},
   {"mark":{"type":"rect","fill":"#93d1f1","fillOpacity":0.5,"stroke":"#5ab0e0","strokeWidth":0.5,"clip":true},"encoding":{"x":{"field":"s","type":"quantitative"},"x2":{"field":"e"},"y":{"field":"v","type":"quantitative"},"y2":{"datum":0}}},
   {"transform":[{"filter":"isValid(datum.hi) && !isValid(datum.lo)"}],"mark":{"type":"rect","fill":"#ff2020","fillOpacity":0.72,"stroke":"#ff0000","strokeWidth":1,"clip":true},"encoding":{"x":{"field":"s","type":"quantitative"},"x2":{"field":"e"},"y":{"field":"v","type":"quantitative"},"y2":{"field":"hi"}}},
   {"data":{"values":[{"c":50.3}]},"mark":{"type":"rule","color":"#f5a05a","strokeWidth":2},"encoding":{"x":{"datum":-10.5},"x2":{"datum":212.7},"y":{"field":"c","type":"quantitative"}}},
   {"data":{"values":[{}]},"mark":{"type":"text","text":["Automated,","Mix two proteins","(2)"],"font":"Lato","fontSize":33,"fontWeight":"bold","align":"left","baseline":"middle","lineHeight":43,"color":"black"},"encoding":{"x":{"datum":219.2},"y":{"datum":67.5}}}
  ]}
 ], "spacing": 41, "bounds": "flush"},
 {"hconcat": [
  {"width":310,"height":243,"data":{"name":"a5"},"layer":[
   {"mark":{"type":"rect","fill":"white","stroke":"white","strokeWidth":1,"clip":true},"encoding":{"x":{"field":"s","type":"quantitative","scale":{"domain":[1,124],"nice":false,"zero":false},"axis":{"title":null,"tickCount":123,"grid":true,"gridColor":"#2797d7","gridWidth":1,"gridOpacity":{"condition":{"test":"datum.value < 124","value":1},"value":0},"tickSize":4,"tickColor":"#404040","tickOpacity":{"condition":{"test":"datum.value % 10 === 1","value":1},"value":0},"labelExpr":"datum.value % 20 === 1 ? datum.label : ''","labelOverlap":false,"labelFlush":false,"labelFontSize":9,"labelColor":"#595959","labelFont":"Lato","labelPadding":4,"labelOffset":1,"domainColor":"#404040","zindex":0}},"x2":{"field":"e"},"y":{"field":"v","type":"quantitative","scale":{"domain":[0,120],"nice":false,"zero":false},"axis":{"title":null,"tickCount":24,"grid":true,"gridColor":"#d4d4d4","gridOpacity":{"condition":{"test":"datum.value % 20 === 0","value":1},"value":0},"tickSize":3,"tickColor":"#595959","labelExpr":"datum.value % 20 === 0 ? datum.label : ''","labelOverlap":false,"labelFontSize":9,"labelColor":"#595959","labelFont":"Lato","labelPadding":3,"domainColor":"#404040","zindex":1}},"y2":{"datum":120}}},
   {"mark":{"type":"rect","fill":"#93d1f1","fillOpacity":0.5,"stroke":"#5ab0e0","strokeWidth":0.5,"clip":true},"encoding":{"x":{"field":"s","type":"quantitative"},"x2":{"field":"e"},"y":{"field":"v","type":"quantitative"},"y2":{"datum":0}}},
   {"transform":[{"filter":"isValid(datum.hi) && !isValid(datum.lo)"}],"mark":{"type":"rect","fill":"#ff2020","fillOpacity":0.62,"stroke":"#ff0000","strokeWidth":1,"clip":true},"encoding":{"x":{"field":"s","type":"quantitative"},"x2":{"field":"e"},"y":{"field":"v","type":"quantitative"},"y2":{"field":"hi"}}},
   {"data":{"values":[{"c":88.3}]},"mark":{"type":"rule","color":"#f7b584","strokeWidth":1.5},"encoding":{"x":{"datum":1},"x2":{"datum":125},"y":{"field":"c","type":"quantitative"}}}
  ]},
  {"width":310,"height":243,"data":{"name":"b5"},"layer":[
   {"mark":{"type":"rect","fill":"white","stroke":"white","strokeWidth":1,"clip":true},"encoding":{"x":{"field":"s","type":"quantitative","scale":{"domain":[1,163],"nice":false,"zero":false},"axis":{"title":"Protein sequence","titleFont":"Lato","titleFontSize":33,"titleFontWeight":"bold","titleColor":"black","titleX":158,"titleY":48,"titleBaseline":"alphabetic","titleAlign":"center","tickCount":162,"grid":true,"gridColor":"#2797d7","gridWidth":1,"gridOpacity":{"condition":{"test":"datum.value < 163","value":0.75},"value":0},"tickSize":4,"tickColor":"#404040","tickOpacity":{"condition":{"test":"datum.value % 10 === 1","value":1},"value":0},"labelExpr":"datum.value % 20 === 1 ? datum.label : ''","labelOverlap":false,"labelFlush":false,"labelFontSize":9,"labelColor":"#595959","labelFont":"Lato","labelPadding":4,"labelOffset":1,"domainColor":"#404040","zindex":0}},"x2":{"field":"e"},"y":{"field":"v","type":"quantitative","scale":{"domain":[0,140],"nice":false,"zero":false},"axis":{"title":null,"tickCount":28,"grid":true,"gridColor":"#d4d4d4","gridOpacity":{"condition":{"test":"datum.value % 20 === 0","value":1},"value":0},"tickSize":3,"tickColor":"#595959","labelExpr":"datum.value % 20 === 0 ? datum.label : ''","labelOverlap":false,"labelFontSize":9,"labelColor":"#595959","labelFont":"Lato","labelPadding":3,"domainColor":"#404040","zindex":1}},"y2":{"datum":140}}},
   {"mark":{"type":"rect","fill":"#93d1f1","fillOpacity":0.5,"stroke":"#5ab0e0","strokeWidth":0.5,"clip":true},"encoding":{"x":{"field":"s","type":"quantitative"},"x2":{"field":"e"},"y":{"field":"v","type":"quantitative"},"y2":{"datum":0}}},
   {"transform":[{"filter":"isValid(datum.hi) && !isValid(datum.lo)"}],"mark":{"type":"rect","fill":"#ff2020","fillOpacity":0.62,"stroke":"#ff0000","strokeWidth":1,"clip":true},"encoding":{"x":{"field":"s","type":"quantitative"},"x2":{"field":"e"},"y":{"field":"v","type":"quantitative"},"y2":{"field":"hi"}}},
   {"data":{"values":[{"c":87}]},"mark":{"type":"rule","color":"#f7b584","strokeWidth":1.5},"encoding":{"x":{"datum":1},"x2":{"datum":167},"y":{"field":"c","type":"quantitative"}}}
  ]},
  {"width":310,"height":243,"data":{"name":"c5"},"layer":[
   {"mark":{"type":"rect","fill":"white","stroke":"white","strokeWidth":1,"clip":true},"encoding":{"x":{"field":"s","type":"quantitative","scale":{"domain":[1,210],"nice":false,"zero":false},"axis":{"title":null,"tickCount":209,"grid":true,"gridColor":"#2797d7","gridWidth":1,"gridOpacity":{"condition":{"test":"datum.value < 210","value":0.45},"value":0},"tickSize":4,"tickColor":"#404040","tickOpacity":{"condition":{"test":"datum.value % 10 === 1","value":1},"value":0},"labelExpr":"datum.value % 20 === 1 ? datum.label : ''","labelOverlap":false,"labelFlush":false,"labelFontSize":9,"labelColor":"#595959","labelFont":"Lato","labelPadding":4,"labelOffset":1,"domainColor":"#404040","zindex":0}},"x2":{"field":"e"},"y":{"field":"v","type":"quantitative","scale":{"domain":[0,100],"nice":false,"zero":false},"axis":{"title":null,"tickCount":20,"grid":true,"gridColor":"#d4d4d4","gridOpacity":{"condition":{"test":"datum.value % 20 === 0","value":1},"value":0},"tickSize":3,"tickColor":"#595959","labelExpr":"datum.value % 20 === 0 ? datum.label : ''","labelOverlap":false,"labelFontSize":9,"labelColor":"#595959","labelFont":"Lato","labelPadding":3,"domainColor":"#404040","zindex":1}},"y2":{"datum":100}}},
   {"mark":{"type":"rect","fill":"#93d1f1","fillOpacity":0.5,"stroke":"#5ab0e0","strokeWidth":0.5,"clip":true},"encoding":{"x":{"field":"s","type":"quantitative"},"x2":{"field":"e"},"y":{"field":"v","type":"quantitative"},"y2":{"datum":0}}},
   {"transform":[{"filter":"isValid(datum.hi) && !isValid(datum.lo)"}],"mark":{"type":"rect","fill":"#ff2020","fillOpacity":0.72,"stroke":"#ff0000","strokeWidth":1,"clip":true},"encoding":{"x":{"field":"s","type":"quantitative"},"x2":{"field":"e"},"y":{"field":"v","type":"quantitative"},"y2":{"field":"hi"}}},
   {"data":{"values":[{"c":50.1}]},"mark":{"type":"rule","color":"#f5a05a","strokeWidth":2},"encoding":{"x":{"datum":-10.5},"x2":{"datum":216},"y":{"field":"c","type":"quantitative"}}},
   {"data":{"values":[{}]},"mark":{"type":"text","text":["Automated,","Mix three proteins"],"font":"Lato","fontSize":33,"fontWeight":"bold","align":"left","baseline":"middle","lineHeight":43,"color":"black"},"encoding":{"x":{"datum":219.9},"y":{"datum":67.1}}}
  ]}
 ], "spacing": 41, "bounds": "flush"}
], "spacing": 25.5}
],
"spacing": 19.5
}
